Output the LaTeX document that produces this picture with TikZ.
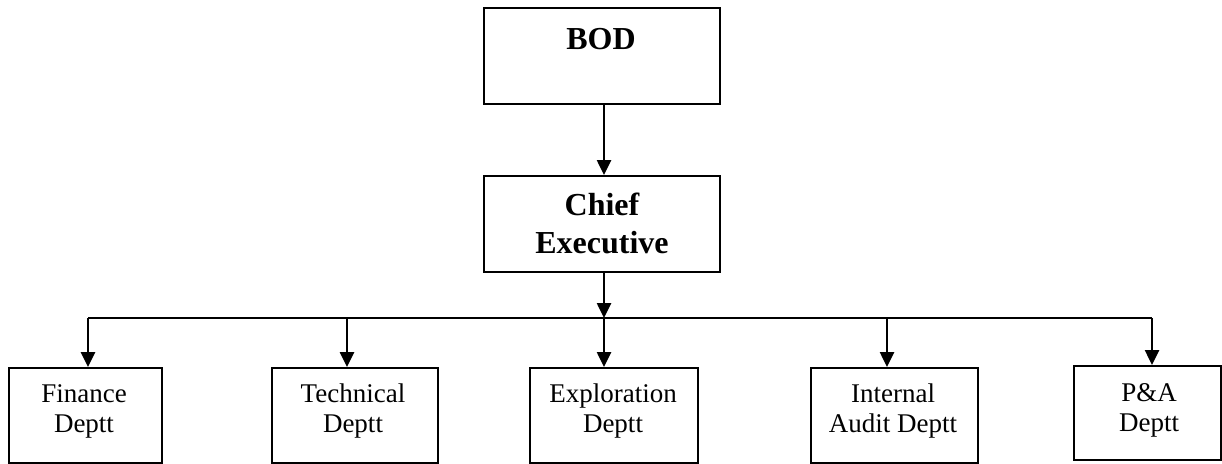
\documentclass[tikz,border=0pt]{standalone}
\usepackage{fontspec}
\setmainfont{Liberation Serif}
\usetikzlibrary{arrows.meta}
\begin{document}
\begin{tikzpicture}[x=1pt,y=-1pt,
  box/.style={draw,line width=2.4pt,inner sep=0pt,anchor=north west},
  head/.style={font=\fontsize{32}{38}\selectfont\bfseries,align=center,anchor=base,inner sep=0pt},
  dept/.style={font=\fontsize{27}{30}\selectfont,align=center,anchor=base,inner sep=0pt},
  link/.style={line width=2.6pt,-{Triangle[width=14pt,length=15pt]}},
  bus/.style={line width=2.4pt}]
\useasboundingbox (0,0) rectangle (1222,463);

% top of the chart
\node[box,minimum width=236pt,minimum height=96pt] (bod) at (483,7) {};
\node[head] (bodtext) at (601,49) {BOD};

\node[box,minimum width=236pt,minimum height=96pt] (ceo) at (483,175) {};
\node[head] (ceotext) at (602,253) {Chief\\Executive};

% departments
\node[box,minimum width=153pt,minimum height=95pt] (fin) at (8,367) {};
\node[dept] (fintext) at (84,432) {Finance\\Deptt};

\node[box,minimum width=166pt,minimum height=95pt] (tech) at (271,367) {};
\node[dept] (techtext) at (353,432) {Technical\\Deptt};

\node[box,minimum width=168pt,minimum height=95pt] (expl) at (529,367) {};
\node[dept] (expltext) at (613,432) {Exploration\\Deptt};

\node[box,minimum width=167pt,minimum height=95pt] (audit) at (810,367) {};
\node[dept] (audittext) at (893,432) {Internal\\Audit Deptt};

\node[box,minimum width=147pt,minimum height=94pt] (pa) at (1073,365) {};
\node[dept] (patext) at (1149,431) {P\&A\\Deptt};

% distribution bus
\coordinate (busL) at (88,318);
\coordinate (busM) at (604,318);
\coordinate (busR) at (1152,318);
\coordinate (busT) at (347,318);
\coordinate (busA) at (887,318);

\draw[link] (bod.south -| busM) -- (ceo.north -| busM);
\draw[link] (ceo.south -| busM) -- (busM);
\draw[bus] (busL) -- (busR);
\draw[link] (busL) -- (busL |- fin.north);
\draw[link] (busT) -- (busT |- tech.north);
\draw[link] (busM) -- (busM |- expl.north);
\draw[link] (busA) -- (busA |- audit.north);
\draw[link] (busR) -- (busR |- pa.north);
\end{tikzpicture}
\end{document}
